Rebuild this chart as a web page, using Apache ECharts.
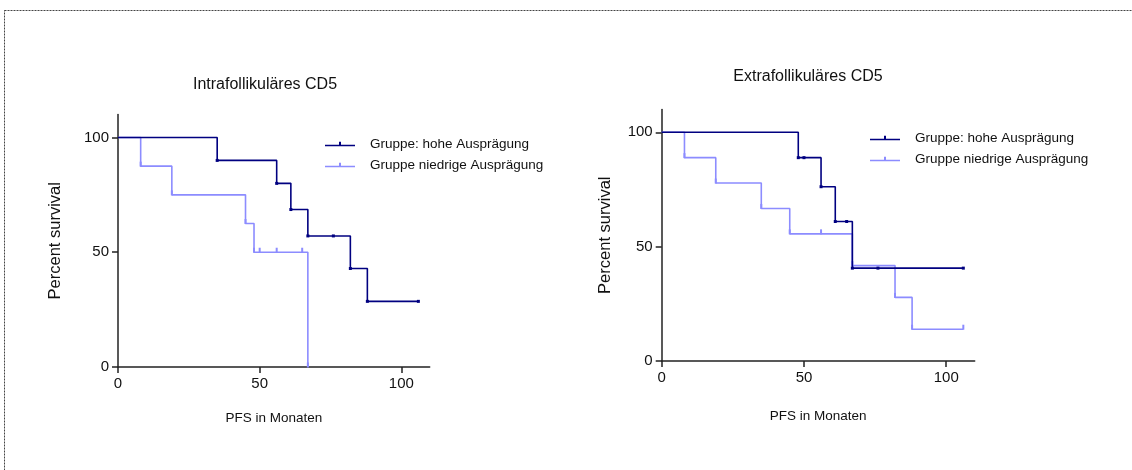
<!DOCTYPE html>
<html>
<head>
<meta charset="utf-8">
<script src="https://cdn.jsdelivr.net/npm/echarts@6/dist/echarts.min.js"></script>
<style>
  html, body { margin: 0; padding: 0; background: #fff; }
  #chart { width: 1132px; height: 470px; }
</style>
</head>
<body>
<div id="chart"></div>
<script>
// Kaplan-Meier curves: time (months) and percent survival for each group
const titles = ['Intrafollikuläres CD5', 'Extrafollikuläres CD5'];
const seriesNames = ['Gruppe: hohe Ausprägung', 'Gruppe niedrige Ausprägung'];
const xAxisName = 'PFS in Monaten';
const yAxisName = 'Percent survival';
const tickValues = [0, 50, 100];

const intraHighT = [0, 35, 56, 61, 67, 76, 82, 88, 106];
const intraHighS = [100, 90, 80, 68.6, 57.1, 57.1, 42.9, 28.6, 28.6];
const intraLowT = [0, 8, 19, 45, 48, 50, 56, 65, 67];
const intraLowS = [100, 87.5, 75, 62.5, 50, 50, 50, 50, 0];

const extraHighT = [0, 48, 50, 56, 61, 65, 67, 76, 106];
const extraHighS = [100, 88.9, 88.9, 76.2, 61, 61, 40.6, 40.6, 40.6];
const extraLowT = [0, 8, 19, 35, 45, 56, 67, 82, 88, 106];
const extraLowS = [100, 88.9, 77.8, 66.7, 55.6, 55.6, 41.7, 27.8, 13.9, 13.9];

const DARK = '#000080';
const LIGHT = '#8c8cff';
const FONT = '"Liberation Sans", Arial, sans-serif';

const pairs = (t, s) => t.map((v, i) => [v, s[i]]);

function xAxis(gridIndex, gap) {
  return {
    type: 'value', gridIndex, min: 0, max: 110, interval: 50,
    name: xAxisName, nameLocation: 'middle', nameGap: gap,
    nameTextStyle: { color: '#111', fontFamily: FONT, fontSize: 13.5 },
    axisLine: { onZero: false, lineStyle: { color: '#222', width: 1.5 } },
    axisTick: { length: 6, customValues: tickValues, lineStyle: { color: '#222', width: 1.5 } },
    axisLabel: { customValues: tickValues, margin: 9, color: '#111', fontFamily: FONT, fontSize: 15 },
    splitLine: { show: false }
  };
}
function yAxis(gridIndex, gap) {
  return {
    type: 'value', gridIndex, min: 0, max: 110, interval: 50,
    name: yAxisName, nameLocation: 'middle', nameGap: gap, nameRotate: 90,
    nameTextStyle: { color: '#111', fontFamily: FONT, fontSize: 16.5 },
    axisLine: { onZero: false, lineStyle: { color: '#222', width: 1.5 } },
    axisTick: { length: 6, customValues: tickValues, lineStyle: { color: '#222', width: 1.5 } },
    axisLabel: { customValues: tickValues, margin: 9, color: '#111', fontFamily: FONT, fontSize: 15 },
    splitLine: { show: false }
  };
}
function curve(name, data, idx, color, light) {
  return {
    type: 'line', name, xAxisIndex: idx, yAxisIndex: idx,
    data, step: 'end', color,
    lineStyle: { color, width: 1.6 },
    symbol: 'rect',
    symbolSize: (v, p) => p.dataIndex === 0 ? 0 : (light ? [2, 5] : [3, 3]),
    symbolOffset: light ? [0, -2] : [0, 0],
    itemStyle: { color },
    silent: true, animation: false, z: light ? 2 : 3
  };
}
const legendIcon = 'path://M0,5L30,5L30,6.5L0,6.5Z M14,2L16,2L16,6L14,6Z';
function legend(left, top) {
  return {
    orient: 'vertical', left, top, padding: 0, itemGap: 7, itemWidth: 30, itemHeight: 7,
    icon: legendIcon, selectedMode: false,
    textStyle: { color: '#111', fontFamily: FONT, fontSize: 13.5, padding: [0, 0, 0, 10] },
    data: seriesNames
  };
}

const chart = echarts.init(document.getElementById('chart'), null, { renderer: 'canvas' });
chart.setOption({
  backgroundColor: '#fff',
  animation: false,
  title: [
    { text: titles[0], left: 260, top: 72, textAlign: 'center',
      textStyle: { color: '#111', fontFamily: FONT, fontSize: 16, fontWeight: 'normal' } },
    { text: titles[1], left: 803, top: 64, textAlign: 'center',
      textStyle: { color: '#111', fontFamily: FONT, fontSize: 16, fontWeight: 'normal' } }
  ],
  legend: [legend(325, 137), legend(870, 131)],
  grid: [
    { left: 118, top: 114.5, width: 311.7, height: 252.5, containLabel: false },
    { left: 661.7, top: 109.4, width: 313, height: 251.6, containLabel: false }
  ],
  xAxis: [xAxis(0, 44), xAxis(1, 48)],
  yAxis: [yAxis(0, 54), yAxis(1, 48)],
  series: [
    curve(seriesNames[1], pairs(intraLowT, intraLowS), 0, LIGHT, true),
    curve(seriesNames[0], pairs(intraHighT, intraHighS), 0, DARK, false),
    curve(seriesNames[1], pairs(extraLowT, extraLowS), 1, LIGHT, true),
    curve(seriesNames[0], pairs(extraHighT, extraHighS), 1, DARK, false)
  ],
  graphic: [{
    type: 'rect', silent: true,
    shape: { x: 4.5, y: 10.5, width: 1200, height: 500 },
    style: { fill: 'none', stroke: '#444', lineWidth: 1, lineDash: [2, 1] }
  }]
});
</script>
</body>
</html>
